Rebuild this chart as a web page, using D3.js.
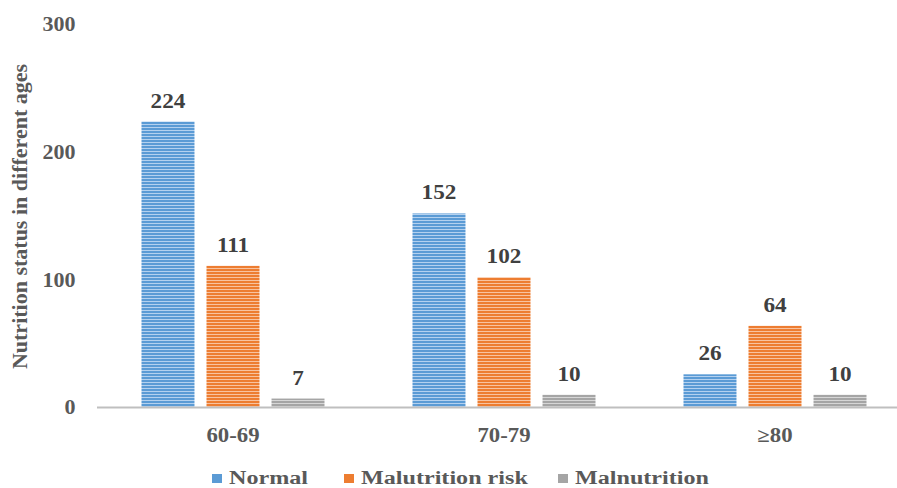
<!DOCTYPE html>
<html><head><meta charset="utf-8">
<script src="https://cdn.jsdelivr.net/npm/d3@7/dist/d3.min.js"></script>
<style>body{margin:0;background:#fff}svg{display:block}</style>
</head><body>
<script>
const categories = ["60-69", "70-79", "≥80"];
const seriesNames = ["Normal", "Malutrition risk", "Malnutrition"];
const normal = [224, 152, 26];
const malutritionRisk = [111, 102, 64];
const malnutrition = [7, 10, 10];
const yTicks = [0, 100, 200, 300];

const W = 897, H = 488;
const colors = ["#5b9bd5", "#ed7d31", "#a5a5a5"];
const lights = ["#b4d1ef", "#f8c3a0", "#d6d6d6"];
const values = [normal, malutritionRisk, malnutrition];
const font = "'Liberation Serif', 'Times New Roman', serif";

const svg = d3.select("body").append("svg").attr("width", W).attr("height", H);
const defs = svg.append("defs");
colors.forEach((c, i) => {
  const p = defs.append("pattern").attr("id", "pat" + i).attr("patternUnits", "userSpaceOnUse")
    .attr("width", 6).attr("height", 3);
  p.append("rect").attr("width", 6).attr("height", 3).attr("fill", c);
  p.append("rect").attr("y", 1).attr("width", 6).attr("height", 1).attr("fill", lights[i]);
});

function label(parent, x, y, txt, size, sx, anchor, fill) {
  return parent.append("text")
    .attr("transform", `translate(${x},${y}) scale(${sx},1)`)
    .attr("text-anchor", anchor).attr("font-family", font).attr("font-weight", "bold")
    .attr("font-size", size).attr("fill", fill).text(txt);
}

const x = d3.scaleBand().domain(categories).range([97.5, 910.5]).paddingInner(0).paddingOuter(0);
const x1 = d3.scaleBand().domain(seriesNames).range([44, 271 - 44]).paddingInner(0.185);
const y = d3.scaleLinear().domain([0, 300]).range([407.5, 24.5]);

// y tick labels
const yt = svg.append("g");
yTicks.forEach(t => label(yt, 75.5, y(t) + 6.8, t, 20, 1.1, "end", "#595959"));

// bars
const g = svg.append("g");
categories.forEach((cat, ci) => {
  seriesNames.forEach((s, si) => {
    const v = values[si][ci];
    const bx = x(cat) + x1(s);
    g.append("rect").attr("x", bx).attr("y", y(v)).attr("width", x1.bandwidth())
      .attr("height", y(0) - y(v)).attr("fill", `url(#pat${si})`);
    label(g, bx + x1.bandwidth() / 2, y(v) - 14, v, 20, 1.16, "middle", "#404040");
  });
});

// x axis line
svg.append("line").attr("x1", 97).attr("x2", W).attr("y1", y(0)).attr("y2", y(0))
  .attr("stroke", "#bfbfbf").attr("stroke-width", 2);

// x labels
const xl = svg.append("g");
categories.forEach(c => label(xl, x(c) + x.bandwidth() / 2, 442, c, 20, 1.14, "middle", "#595959"));

// y axis title
svg.append("text").attr("transform", "translate(27,216.5) rotate(-90)")
  .attr("text-anchor", "middle").attr("font-family", font).attr("font-weight", "bold")
  .attr("font-size", 22).attr("fill", "#595959").text("Nutrition status in different ages");

// legend
const legX = [212, 344, 558];
const lg = svg.append("g");
seriesNames.forEach((s, i) => {
  lg.append("rect").attr("x", legX[i]).attr("y", 474).attr("width", 10).attr("height", 9).attr("fill", colors[i]);
  label(lg, legX[i] + 17, 483.5, s, 19, 1.27, "start", "#595959");
});
</script>
</body></html>
